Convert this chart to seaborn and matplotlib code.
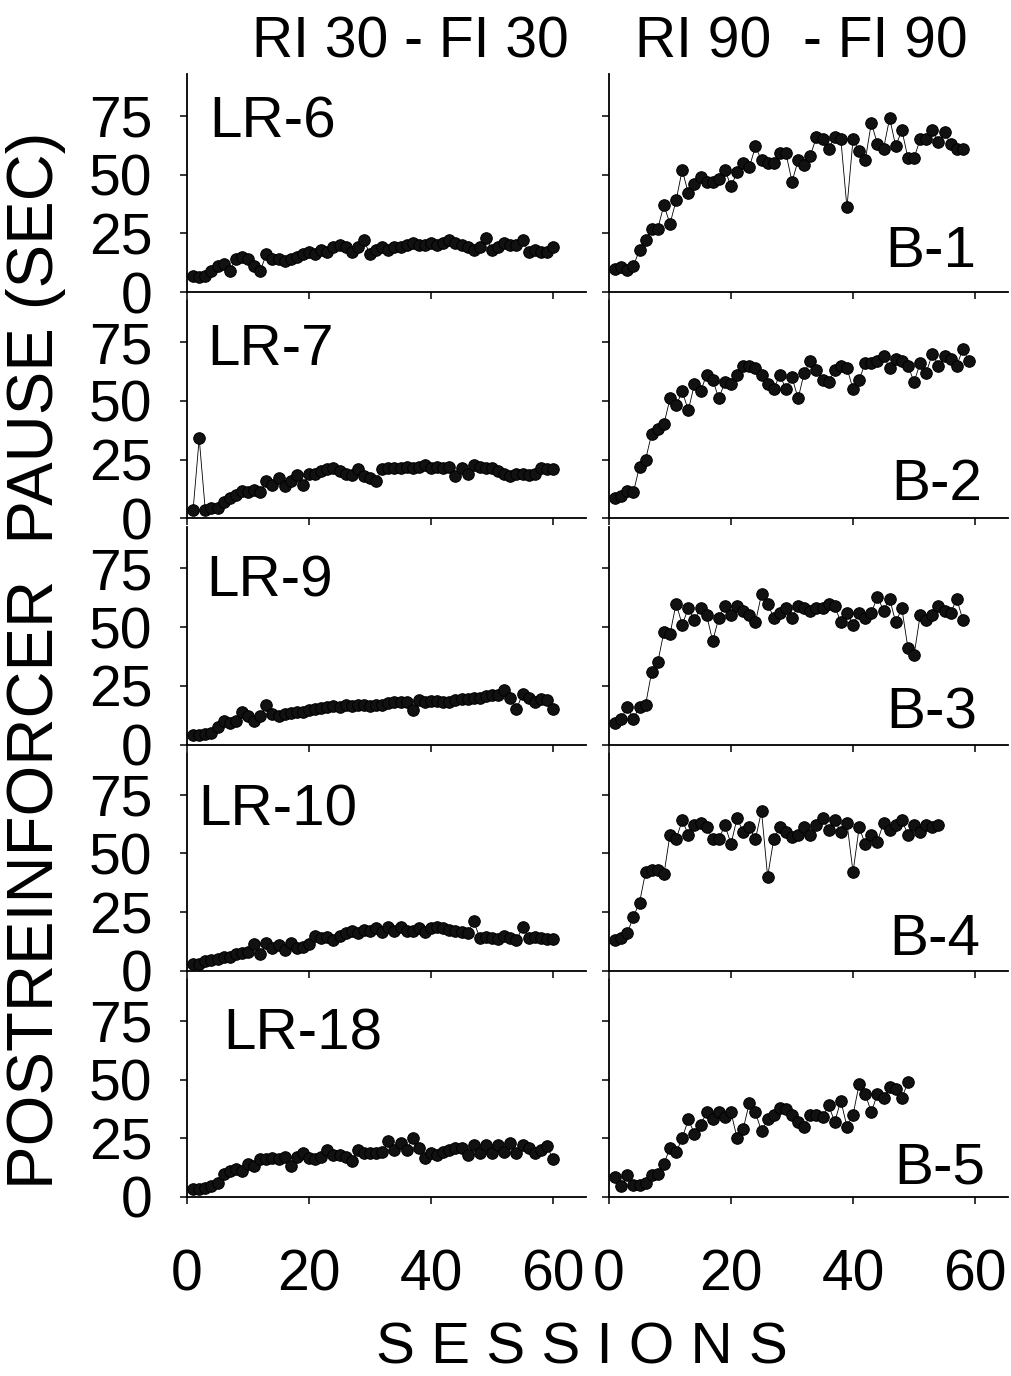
import numpy as np
import pandas as pd
import seaborn as sns
import matplotlib
matplotlib.use("Agg")
import matplotlib.pyplot as plt

sns.set_style("ticks")
plt.rcParams["font.family"] = ["Liberation Sans", "DejaVu Sans"]
plt.rcParams.update({"text.color": "black", "xtick.color": "black",
                     "ytick.color": "black", "axes.edgecolor": "black",
                     "xtick.labelcolor": "black", "ytick.labelcolor": "black"})

# postreinforcer pause (sec) per session
lr6 = [7, 6.5, 7, 9, 11, 12, 9, 14, 15, 14,
       11, 9, 16, 14, 14, 13, 14, 15, 16, 17,
       16, 18, 17, 19, 20, 19, 17, 19, 22, 16,
       18, 19, 18, 19, 19, 20, 21, 20, 20, 21,
       20, 21, 22, 21, 20, 19, 18, 19, 23, 18,
       19, 21, 20, 20, 22, 17, 18, 17, 17, 19]
lr7 = [3.6, 34, 3.3, 4.3, 4.3, 7, 8.6, 10, 11.4, 11,
       12, 11, 16, 14, 17, 13.6, 16, 18.6, 14, 19,
       19, 20, 21, 21.4, 20, 19, 18.6, 21, 18, 17,
       16, 21, 21.4, 21.4, 21.4, 22, 21.4, 22, 22.8, 21.4,
       22, 21.4, 22, 18, 21.4, 19, 22.8, 22, 21.4, 21.4,
       20, 19, 18, 19, 19, 18.6, 19, 21.4, 21, 21]
lr9 = [4, 4, 4.5, 5, 7.5, 10, 9, 10, 14, 12,
       10, 12, 17, 13, 12, 13, 13.5, 14, 14, 14.5,
       15, 15.5, 16, 16.5, 16, 17, 16.5, 17, 17, 16.5,
       17, 17, 17.5, 18, 18, 18, 14.5, 19, 18, 18.5,
       18.5, 18, 18, 19, 19.5, 19.5, 20, 20, 20.5, 21,
       21, 23, 20, 15, 21.5, 20, 18, 19.5, 19, 15]
lr10 = [3, 3, 4, 4.5, 5, 6, 6, 7, 7.5, 8,
        11.5, 7, 12, 9.5, 11, 9, 12, 9.5, 10, 11.5,
        15, 14, 14.5, 13, 15, 16, 17, 16, 17.5, 17,
        18, 16.5, 18.5, 17, 18.5, 17, 17, 18, 16.5, 18,
        18.5, 18, 17.5, 17, 16.5, 16, 21, 14, 14.5, 14,
        13.5, 15, 14, 13, 18.5, 14, 14.5, 14, 13.5, 13.5]
lr18 = [3.5, 3.5, 4, 4.6, 6, 10, 11, 12, 11, 14,
        13, 16, 16, 16.5, 16, 17, 13, 17, 18.6, 16.5,
        16, 17, 20, 18, 18, 17, 15.5, 20, 18.6, 18.6,
        18.6, 19, 24, 20, 23, 20, 25, 20.7, 16.5, 18.6,
        18, 19, 20, 20.7, 20.7, 18, 22, 18.6, 22, 18.6,
        22, 19, 23, 18.6, 22, 20.7, 18.6, 20, 21.7, 16]

b1 = [9.6, 10.5, 9.3, 11, 18, 22, 27, 27, 37, 29,
      39, 52, 42, 46, 49, 47, 47, 48, 52, 45,
      51, 55, 53, 62, 56, 55, 55, 59, 59, 47,
      56, 54, 58, 66, 65, 61, 66, 65, 36, 65,
      60, 56, 72, 63, 61, 74, 62, 69, 57, 57,
      65, 65, 69, 64, 68, 63, 61, 61]
b2 = [8.6, 9.3, 11.4, 11, 22, 25, 36, 38, 40, 51,
      48, 54, 46, 57, 54, 61, 59, 51, 58, 57,
      61, 65, 65, 64, 61, 57, 55, 61, 55, 60,
      51, 62, 67, 63, 59, 58, 63, 65, 64, 55,
      59, 66, 66, 67, 69, 64, 68, 67, 65, 58,
      66, 62, 70, 65, 69, 68, 65, 72, 67]
b3 = [9, 11, 16, 11, 16, 17, 31, 35, 48, 47,
      60, 51, 58, 53, 58, 55, 44, 54, 59, 55,
      59, 57, 55, 52, 64, 60, 54, 56, 58, 54,
      59, 58, 57, 58, 58, 60, 59, 52, 56, 51,
      56, 54, 56, 63, 57, 62, 52, 58, 41, 38,
      55, 53, 55, 59, 57, 56, 62, 53]
b4 = [13, 14, 16, 23, 29, 42, 43, 43, 41, 58,
      56, 64, 58, 62, 63, 61, 56, 56, 62, 54,
      65, 59, 61, 56, 68, 40, 56, 61, 59, 57,
      58, 61, 58, 62, 65, 60, 64, 59, 63, 42,
      61, 54, 58, 55, 63, 60, 62, 64, 58, 62,
      59, 62, 61, 62]
b5 = [8.5, 4.6, 9.5, 5.3, 5.3, 6, 9.5, 10, 14, 21,
      19, 25, 33, 27, 30.5, 36, 33, 36, 34, 36,
      25, 29, 40, 36, 28, 33, 35, 38, 37.5, 35,
      32, 30, 35, 35, 34, 39, 32, 41, 30, 35,
      48, 44, 36, 44, 42, 47, 46, 42, 49]

left_series = [lr6, lr7, lr9, lr10, lr18]
right_series = [b1, b2, b3, b4, b5]
left_names = ["LR-6", "LR-7", "LR-9", "LR-10", "LR-18"]
right_names = ["B-1", "B-2", "B-3", "B-4", "B-5"]
col_titles = ["RI 30 - FI 30", "RI 90  - FI 90"]
y_ticks = [0, 25, 50, 75]
x_ticks = [0, 20, 40, 60]

W, H = 1012, 1376
fig = plt.figure(figsize=(W / 100, H / 100), dpi=100)

col_x = [187, 609]
ax_w, ax_h = 399, 218
row_bottom = [292 + 226.25 * i for i in range(5)]

# label positions in pixels (left x / right x, baseline y)
left_lab = [(209, 137), (207, 365), (206, 597), (198, 825), (223, 1050)]
right_lab = [(976, 267), (982, 500), (977, 728), (980, 955), (985, 1183)]

for c, (series, names, labpos) in enumerate([(left_series, left_names, left_lab),
                                              (right_series, right_names, right_lab)]):
    for r in range(5):
        ax = fig.add_axes([col_x[c] / W, 1 - row_bottom[r] / H, ax_w / W, ax_h / H])
        vals = series[r]
        df = pd.DataFrame({"session": np.arange(1, len(vals) + 1), "pause": vals})
        sns.lineplot(data=df, x="session", y="pause", ax=ax, color="black",
                     linewidth=0.6, marker="o", markersize=8.3,
                     markeredgecolor="black", markerfacecolor="#111111",
                     clip_on=False)
        ax.set_xlim(0, 65.4)
        ax.set_ylim(0, 92.8)
        ax.set_xticks(x_ticks)
        ax.set_yticks(y_ticks)
        ax.set_xlabel("")
        ax.set_ylabel("")
        sns.despine(ax=ax)
        for s in ["left", "bottom"]:
            ax.spines[s].set_linewidth(1.3)
        ax.tick_params(direction="out", length=5, width=1.1, labelsize=41)
        ax.tick_params(axis="y", pad=20)
        ax.tick_params(axis="x", pad=32)
        if c == 1:
            ax.tick_params(axis="y", labelleft=False)
        if r < 4:
            ax.tick_params(axis="x", labelbottom=False)
        lx, ly = labpos[r]
        fig.text(lx / W, 1 - ly / H, names[r], fontsize=42,
                 ha="left" if c == 0 else "right", va="baseline")

fig.text(410 / W, 1 - 58 / H, col_titles[0], fontsize=41, ha="center", va="baseline")
fig.text(801 / W, 1 - 58 / H, col_titles[1], fontsize=41, ha="center", va="baseline")
fig.text(36 / W, 1 - 660 / H, "POSTREINFORCER  PAUSE (SEC)", fontsize=47,
         rotation=90, ha="center", va="center")
fig.text(582 / W, 1 - 1364 / H, "S E S S I O N S", fontsize=42,
         ha="center", va="baseline")

fig.savefig("out.png", dpi=100)
